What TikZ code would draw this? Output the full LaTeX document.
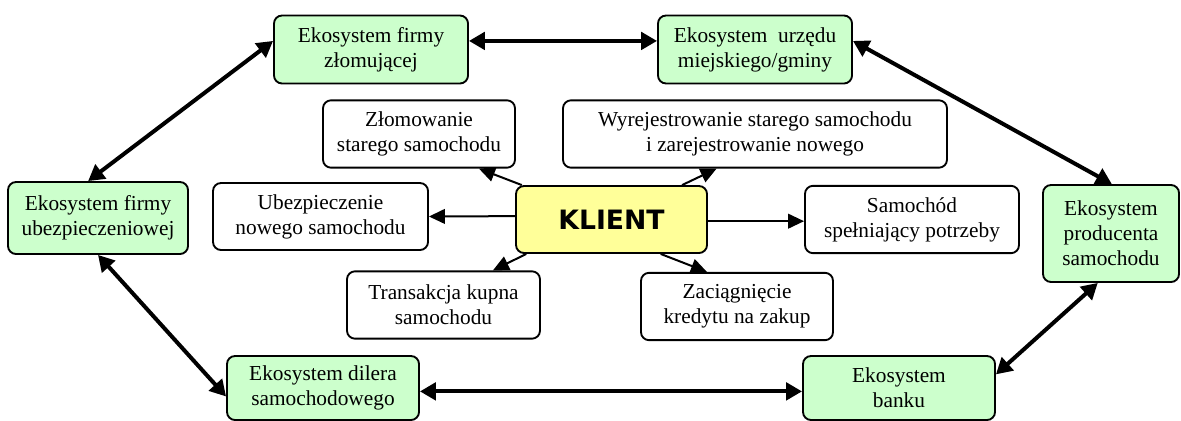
\documentclass[tikz,border=0pt]{standalone}
\usepackage{fontspec}
\setmainfont{Liberation Serif}
\newfontfamily\klientfont{DejaVu Sans}
\usepackage{tikz}
\usetikzlibrary{shapes,arrows.meta}
\usepackage{xcolor}
\definecolor{ekogreen}{HTML}{CCFFCC}
\definecolor{klientyellow}{HTML}{FFFF99}

\begin{document}
\begin{tikzpicture}[x=0.75pt,y=-0.75pt]
        %styles
        \tikzstyle{ramka}=[rectangle, draw, rounded corners=6pt, line width=1.4pt, align=center, inner sep=0pt, font=\fontsize{16}{18.75}\selectfont]
        \tikzstyle{eko}=[ramka, fill=ekogreen, minimum height=51pt]
        \tikzstyle{action}=[ramka, fill=white, minimum height=50.5pt]
        \tikzstyle{klient}=[ramka, fill=klientyellow, font=\klientfont\bfseries\fontsize{20}{24}\selectfont]
        \tikzstyle{link}=[-{Triangle[length=12pt,width=11pt]}, line width=1.5pt]
        \tikzstyle{linkboth}=[{Triangle[length=12pt,width=13pt]}-{Triangle[length=12pt,width=13pt]}, line width=3pt]

        \useasboundingbox (0,0) rectangle (1181,421);

        %nodes
        \node[eko, minimum width=145.5pt] (e1) at (371,49.5) {Ekosystem firmy\\złomującej};
        \node[eko, minimum width=145.5pt] (e2) at (755,49.5) {Ekosystem\ \ urzędu\\miejskiego/gminy};
        \node[eko, minimum width=135pt, minimum height=54pt] (e3) at (98,218) {Ekosystem firmy\\ubezpieczeniowej};
        \node[eko, minimum width=102pt, minimum height=72.75pt] (e4) at (1111,233.5) {Ekosystem\\producenta\\samochodu};
        \node[eko, minimum width=144pt, minimum height=48pt] (e5) at (323,388) {Ekosystem dilera\\samochodowego};
        \node[eko, minimum width=144pt, minimum height=48pt] (e6) at (899,388) {Ekosystem\\banku};

        \node[action, minimum width=144pt] (c1) at (419,134) {Złomowanie\\starego samochodu};
        \node[action, minimum width=288pt] (c2) at (755,134) {Wyrejestrowanie starego samochodu\\i zarejestrowanie nowego};
        \node[action, minimum width=161.25pt, minimum height=50.25pt] (c3) at (320.5,216.5) {Ubezpieczenie\\nowego samochodu};
        \node[action, minimum width=160.5pt] (c4) at (912,219.5) {Samochód\\spełniający potrzeby};
        \node[action, minimum width=144.75pt] (c5) at (443.5,305) {Transakcja kupna\\samochodu};
        \node[action, minimum width=144pt] (c6) at (737,306.5) {Zaciągnięcie\\kredytu na zakup};

        \node[klient, minimum width=143.25pt, minimum height=50.25pt] (k) at (611.5,219.5) {KLIENT};

        %arrows
        \draw[link] (k.159) -- (c1.330);
        \draw[link] (k.26) -- (c2.222);
        \draw[link] (k.178) -- (c3.east);
        \draw[link] (k.359) -- (c4.west |- k.359);
        \draw[link] (k.202) -- (c5.35);
        \draw[link] (k.325) -- (c6.131);

        \draw[linkboth] (e1.5) -- (e2.175);
        \draw[linkboth] (e1.175) -- (e3.105);
        \draw[linkboth] (e2.5) -- (e4.89);
        \draw[linkboth] (e4.255) -- (e6.8);
        \draw[linkboth] (e5.358) -- (e6.182);
        \draw[linkboth] (e3.south) -- (e5.185);

\end{tikzpicture}
\end{document}
